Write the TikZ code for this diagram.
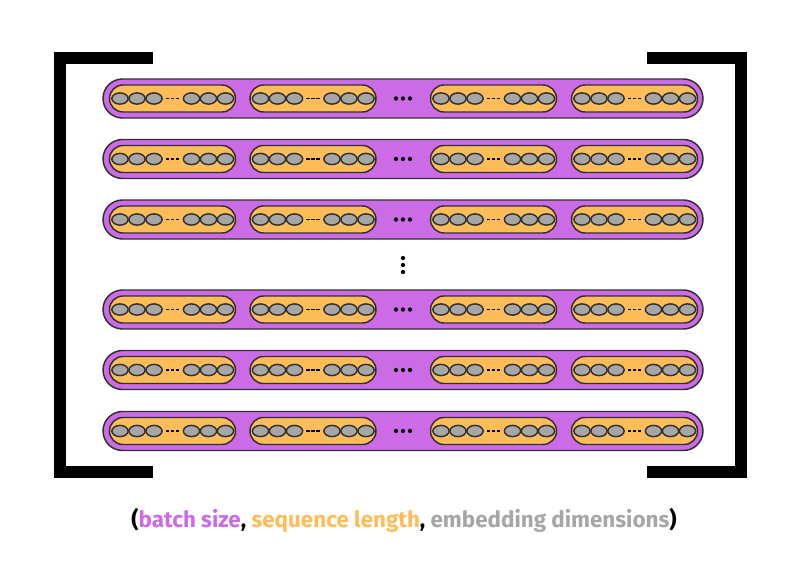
\documentclass[tikz,border=0pt]{standalone}
\usepackage{fontspec}
\setmainfont{Fira Sans}
\usetikzlibrary{shapes.geometric,shapes.misc}
\definecolor{vpurple}{HTML}{CB6CE6}
\definecolor{vorange}{HTML}{FFBD59}
\definecolor{vgray}{HTML}{A6A6A6}
\definecolor{vline}{HTML}{303030}
\tikzset{
  barbox/.style={rounded rectangle, draw=vline, fill=vpurple, line width=1.1pt,
    minimum width=450pt, minimum height=29.25pt, inner sep=0pt},
  pillbox/.style={rounded rectangle, draw=vline, fill=vorange, line width=1.1pt,
    minimum width=94.5pt, minimum height=20.25pt, inner sep=0pt},
  cellbox/.style={ellipse, draw=vline, fill=vgray, line width=1.1pt,
    minimum width=12.2pt, minimum height=8.4pt, inner sep=0pt},
  dashline/.style={draw=black, line width=1.4pt},
  dotmark/.style={fill=black, draw=none},
  bracket/.style={line width=9pt, line join=miter, draw=black},
}
\begin{document}
\begin{tikzpicture}[x=0.75pt,y=-0.75pt]
\useasboundingbox (0,0) rectangle (800,583);
\fill[white] (0,0) rectangle (800,583);
% brackets
\coordinate (lt) at (153,58);
\coordinate (lb) at (153,471.5);
\draw[bracket] (lt) -- (59.5,58) -- (59.5,471.5) -- (lb);
\coordinate (rt) at (647,57.5);
\coordinate (rb) at (647,471.5);
\draw[bracket] (rt) -- (741,57.5) -- (741,471.5) -- (rb);
% rows
\foreach \y [count=\r] in {98.5,159,219.5,309.5,370,431}{
  \node[barbox] (bar\r) at (403,\y) {};
  \foreach \px [count=\p] in {172.5,313,493.5,634.5}{
    \node[pillbox] (pill\r-\p) at (\px,\y) {};
    \foreach \dx [count=\c] in {-52.5,-35.5,-18.5,19,36,53}{
      \node[cellbox] (cell\r-\p-\c) at (\px+\dx,\y) {};
    }
    \foreach \dd in {-5,0,5}{
      \draw[dashline] (\px+\dd-1.6,\y) -- (\px+\dd+1.6,\y);
    }
  }
  \foreach \dd in {-7,0,7}{
    \fill[dotmark] (403+\dd,\y) circle (1.6pt);
  }
}
% vertical dots
\foreach \yy in {258,265,272}{
  \fill[dotmark] (403,\yy) circle (1.6pt);
}
% caption
\node[font=\fontsize{16.8}{20}\selectfont\bfseries, anchor=base, inner sep=0pt] (caption) at (404,527)
  {(\textcolor{vpurple}{batch size}, \textcolor{vorange}{sequence length}, \textcolor{vgray}{embedding dimensions})};
\end{tikzpicture}
\end{document}
